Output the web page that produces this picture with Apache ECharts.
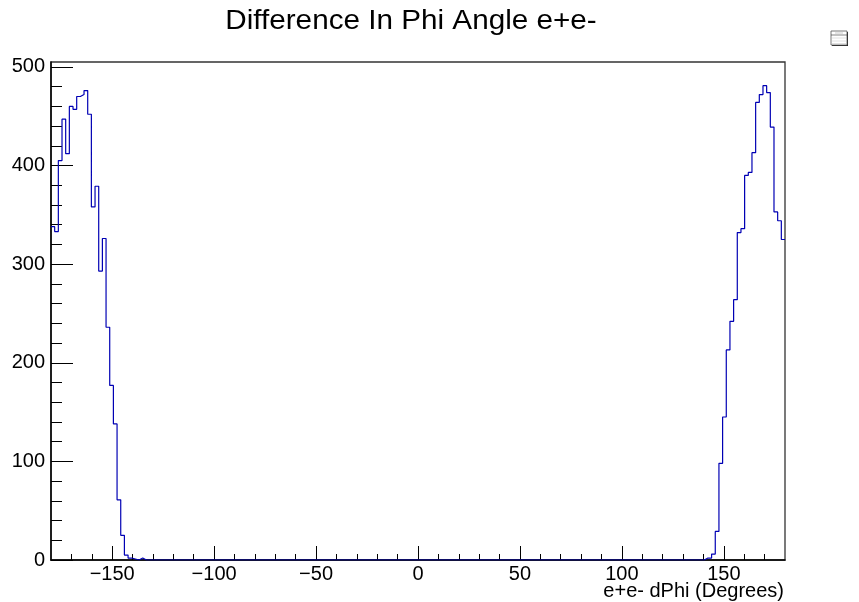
<!DOCTYPE html>
<html>
<head>
<meta charset="utf-8">
<script src="https://cdn.jsdelivr.net/npm/echarts@6/dist/echarts.min.js"></script>
<style>
html,body{margin:0;padding:0;background:#fff;}
#chart{width:859px;height:602px;}
</style>
</head>
<body>
<div id="chart"></div>
<script>
// Histogram: 200 bins from -180 to 180 (bin width 1.8 deg)
const histLow = -180;
const binWidth = 1.8;
const counts = [
  /* 0-9   */ 338, 333, 405, 447, 412, 460, 457, 470, 472, 476,
  /* 10-19 */ 452, 358, 379, 293, 326, 236, 177, 138, 61, 25,
  /* 20-29 */ 5, 2, 1, 0, 2, 0, 0, 0, 0, 0,
  /* 30-39 */ 0, 0, 0, 0, 0, 0, 0, 0, 0, 0,
  /* 40-49 */ 0, 0, 0, 0, 0, 0, 0, 0, 0, 0,
  /* 50-59 */ 0, 0, 0, 0, 0, 0, 0, 0, 0, 0,
  /* 60-69 */ 0, 0, 0, 0, 0, 0, 0, 0, 0, 0,
  /* 70-79 */ 0, 0, 0, 0, 0, 0, 0, 0, 0, 0,
  /* 80-89 */ 0, 0, 0, 0, 0, 0, 0, 0, 0, 0,
  /* 90-99 */ 0, 0, 0, 0, 0, 0, 0, 0, 0, 0,
  /* 100-109 */ 0, 0, 0, 0, 0, 0, 0, 0, 0, 0,
  /* 110-119 */ 0, 0, 0, 0, 0, 0, 0, 0, 0, 0,
  /* 120-129 */ 0, 0, 0, 0, 0, 0, 0, 0, 0, 0,
  /* 130-139 */ 0, 0, 0, 0, 0, 0, 0, 0, 0, 0,
  /* 140-149 */ 0, 0, 0, 0, 0, 0, 0, 0, 0, 0,
  /* 150-159 */ 0, 0, 0, 0, 0, 0, 0, 0, 0, 0,
  /* 160-169 */ 0, 0, 0, 0, 0, 0, 0, 0, 0, 0,
  /* 170-179 */ 0, 0, 0, 0, 0, 0, 0, 0, 2, 2,
  /* 180-189 */ 6, 29, 98, 145, 213, 242, 264, 332, 336, 390,
  /* 190-199 */ 393, 413, 464, 472, 481, 474, 439, 353, 344, 325
];

const xMajorTicks = [-150, -100, -50, 0, 50, 100, 150];
const xMinorTicks = [-170, -160, -140, -130, -120, -110, -90, -80, -70, -60, -40, -30, -20, -10,
                     10, 20, 30, 40, 60, 70, 80, 90, 110, 120, 130, 140, 160, 170];
const yMajorTicks = [0, 100, 200, 300, 400, 500];
const yMinorTicks = [20, 40, 60, 80, 120, 140, 160, 180, 220, 240, 260, 280, 320, 340, 360, 380, 420, 440, 460, 480];

const titleText = 'Difference In Phi Angle e+e-';
const xTitleText = 'e+e- dPhi (Degrees)';

// step points: left edge of each bin, plus the right edge of the last bin
const stepData = counts.map((c, i) => [histLow + i * binWidth, c]);
stepData.push([histLow + counts.length * binWidth, counts[counts.length - 1]]);

const FONT = '"Liberation Sans", Arial, Helvetica, sans-serif';
const fmt = v => (v < 0 ? '\u2212' + Math.abs(v) : String(v));

const chart = echarts.init(document.getElementById('chart'), null, {renderer: 'canvas'});
chart.setOption({
  animation: false,
  backgroundColor: '#ffffff',
  grid: {left: 51, right: 74, top: 62, bottom: 42, show: true, borderColor: '#333', borderWidth: 1.3, backgroundColor: 'transparent'},
  xAxis: [
    {
      type: 'value', min: -180, max: 180, position: 'bottom',
      axisLine: {show: true, onZero: false, lineStyle: {color: '#000', width: 1.5}},
      axisTick: {show: true, inside: true, length: 14, customValues: xMajorTicks, lineStyle: {color: '#000', width: 1}},
      axisLabel: {show: true, customValues: xMajorTicks, formatter: fmt, fontFamily: FONT, fontSize: 20, color: '#000', margin: 4},
      splitLine: {show: false}
    },
    {
      type: 'value', min: -180, max: 180, position: 'bottom', gridIndex: 0,
      axisLine: {show: false, onZero: false},
      axisTick: {show: true, inside: true, length: 6, customValues: xMinorTicks, lineStyle: {color: '#000', width: 1}},
      axisLabel: {show: false},
      splitLine: {show: false}
    }
  ],
  yAxis: [
    {
      type: 'value', min: 0, max: 505, position: 'left',
      axisLine: {show: true, onZero: false, lineStyle: {color: '#000', width: 1.5}},
      axisTick: {show: true, inside: true, length: 22, customValues: yMajorTicks, lineStyle: {color: '#000', width: 1}},
      axisLabel: {show: true, customValues: yMajorTicks, fontFamily: FONT, fontSize: 20, color: '#000', margin: 6},
      splitLine: {show: false}
    },
    {
      type: 'value', min: 0, max: 505, position: 'left',
      axisLine: {show: false, onZero: false},
      axisTick: {show: true, inside: true, length: 11, customValues: yMinorTicks, lineStyle: {color: '#000', width: 1}},
      axisLabel: {show: false},
      splitLine: {show: false}
    }
  ],
  series: [{
    type: 'line',
    xAxisIndex: 0, yAxisIndex: 0,
    step: 'end',
    data: stepData,
    showSymbol: false,
    symbol: 'none',
    lineStyle: {color: '#0000b4', width: 1.2},
    clip: true,
    z: 3
  }],
  graphic: [
    {type: 'text', x: 411, y: 21, scaleX: 1.06, style: {text: titleText, font: '28px ' + FONT, fill: '#000', textAlign: 'center', textVerticalAlign: 'middle'}},
    {type: 'text', x: 784, y: 591, style: {text: xTitleText, font: '20px ' + FONT, fill: '#000', textAlign: 'right', textVerticalAlign: 'middle'}},
    // stats box
    {type: 'rect', shape: {x: 832, y: 32, width: 16, height: 14}, style: {fill: '#222'}},
    {type: 'rect', shape: {x: 831, y: 31, width: 16, height: 14}, style: {fill: '#fff', stroke: '#555', lineWidth: 0.8}},
    {type: 'line', shape: {x1: 831, y1: 35, x2: 847, y2: 35}, style: {stroke: '#333', lineWidth: 0.6}},
    {type: 'line', shape: {x1: 835, y1: 33, x2: 843, y2: 33}, style: {stroke: '#aaa', lineWidth: 0.6}},
    {type: 'line', shape: {x1: 832, y1: 38, x2: 846, y2: 38}, style: {stroke: '#ccc', lineWidth: 0.6}},
    {type: 'line', shape: {x1: 832, y1: 41, x2: 846, y2: 41}, style: {stroke: '#ccc', lineWidth: 0.6}},
    {type: 'line', shape: {x1: 832, y1: 43.5, x2: 846, y2: 43.5}, style: {stroke: '#ccc', lineWidth: 0.6}}
  ]
});
</script>
</body>
</html>
